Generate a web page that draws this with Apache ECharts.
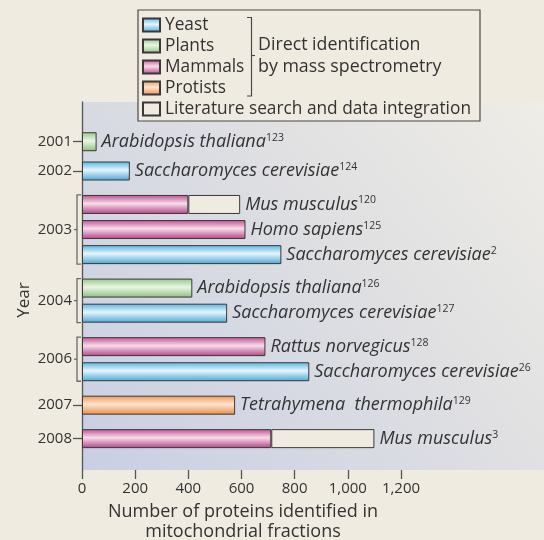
<!DOCTYPE html>
<html>
<head>
<meta charset="utf-8">
<script src="https://cdn.jsdelivr.net/npm/echarts@6/dist/echarts.min.js"></script>
<style>
  html, body { margin: 0; padding: 0; background: #efebe1; }
  #chart { width: 544px; height: 540px; }
</style>
</head>
<body>
<div id="chart"></div>
<script>
// rows, top to bottom
var rowSlot = [9, 16, 24, 30, 36, 44, 50, 58, 64, 72, 80];
var rowKind = ['Plants', 'Yeast', 'Mammals', 'Mammals', 'Yeast', 'Plants', 'Yeast', 'Mammals', 'Yeast', 'Protists', 'Mammals'];
var rowDirect = [55, 180, 400, 615, 750, 415, 546, 690, 855, 576, 712];
var rowLiterature = [0, 0, 195, 0, 0, 0, 0, 0, 0, 0, 388];
var rowOrganism = ['Arabidopsis thaliana', 'Saccharomyces cerevisiae', 'Mus musculus', 'Homo sapiens',
  'Saccharomyces cerevisiae', 'Arabidopsis thaliana', 'Saccharomyces cerevisiae', 'Rattus norvegicus',
  'Saccharomyces cerevisiae', 'Tetrahymena  thermophila', 'Mus musculus'];
var rowRef = ['123', '124', '120', '125', '2', '126', '127', '128', '26', '129', '3'];

// year labels
var years = ['2001', '2002', '2003', '2004', '2006', '2007', '2008'];
var yearSlot = [9, 16, 30, 47, 61, 72, 80];
var singleYearSlot = [9, 16, 72, 80];
var groups = [[24, 36, 30], [44, 50, 47], [58, 64, 61]];
var slotCount = 88;

var xTicks = [0, 200, 400, 600, 800, 1000, 1200];
var xTickLabels = ['0', '200', '400', '600', '800', '1,000', '1,200'];

var kinds = ['Yeast', 'Plants', 'Mammals', 'Protists'];
var kindColors = {
  Yeast: ['#55b4e0', '#e6f5fc', '#4aa6d4'],
  Plants: ['#96c688', '#eaf5e4', '#8cbf7e'],
  Mammals: ['#c04e92', '#f7dcea', '#b34386'],
  Protists: ['#ee9755', '#fde4cf', '#e88c48']
};

var FONT = 'Open Sans';
var categories = [];
for (var i = 0; i < slotCount; i++) categories.push('');
yearSlot.forEach(function (s, k) { categories[s] = years[k]; });

function grad(c) {
  return {
    type: 'linear', x: 0, y: 0, x2: 0, y2: 1,
    colorStops: [
      { offset: 0, color: c[0] },
      { offset: 0.45, color: c[1] },
      { offset: 1, color: c[2] }
    ]
  };
}

function rowLabel(r) {
  return {
    show: true,
    position: 'right',
    distance: 5,
    formatter: '{n|' + rowOrganism[r] + '}{s|' + rowRef[r] + '}',
    rich: {
      n: { fontFamily: FONT, fontStyle: 'italic', fontSize: 18, color: '#333', lineHeight: 19 },
      s: { fontFamily: FONT, fontSize: 10.5, color: '#333', lineHeight: 12, verticalAlign: 'top' }
    }
  };
}

var series = kinds.map(function (kind) {
  var data = categories.map(function () { return '-'; });
  rowSlot.forEach(function (s, r) {
    if (rowKind[r] !== kind) return;
    var item = { value: rowDirect[r] };
    if (!rowLiterature[r]) item.label = rowLabel(r);
    data[s] = item;
  });
  return {
    name: kind,
    type: 'bar',
    stack: 'total',
    barWidth: 19,
    data: data,
    itemStyle: { color: grad(kindColors[kind]), borderColor: '#3b3838', borderWidth: 1 }
  };
});

var litData = categories.map(function () { return '-'; });
rowSlot.forEach(function (s, r) {
  if (rowLiterature[r]) litData[s] = { value: rowLiterature[r], label: rowLabel(r) };
});
series.push({
  name: 'Literature search and data integration',
  type: 'bar',
  stack: 'total',
  barWidth: 19,
  data: litData,
  itemStyle: { color: '#efebe1', borderColor: '#3b3838', borderWidth: 1 }
});

// year brackets
series.push({
  type: 'custom',
  clip: false,
  silent: true,
  encode: { x: 0, y: [1, 2, 3] },
  data: groups.map(function (g) { return [0, g[0], g[1], g[2]]; }),
  renderItem: function (params, api) {
    var top = api.coord([0, api.value(1)]);
    var bot = api.coord([0, api.value(2)]);
    var mid = api.coord([0, api.value(3)]);
    var h = 9.5, x = top[0] - 5;
    var st = { stroke: '#6b6b6b', lineWidth: 1.3, fill: null };
    return {
      type: 'group',
      children: [
        { type: 'polyline', shape: { points: [[x + 4, top[1] - h], [x, top[1] - h], [x, bot[1] + h], [x + 4, bot[1] + h]] }, style: st },
        { type: 'line', shape: { x1: x - 3, y1: mid[1], x2: x, y2: mid[1] }, style: st }
      ]
    };
  }
});

var chart = echarts.init(document.getElementById('chart'));
chart.setOption({
  backgroundColor: '#efebe1',
  animation: false,
  textStyle: { fontFamily: FONT },
  grid: {
    left: 82, right: 0, top: 102, bottom: 70,
    outerBoundsMode: 'none',
    show: true,
    borderWidth: 0,
    backgroundColor: {
      type: 'linear', x: 0, y: 1, x2: 1, y2: 0,
      colorStops: [{ offset: 0, color: '#c8cfe4' }, { offset: 0.6, color: '#e0e0e2' }, { offset: 1, color: '#eeede7' }]
    }
  },
  legend: {
    orient: 'vertical',
    left: 142, top: 16,
    padding: 0,
    icon: 'rect',
    itemWidth: 17, itemHeight: 13,
    itemGap: 3,
    selectedMode: false,
    z: 5,
    textStyle: { fontFamily: FONT, fontSize: 17.3, color: '#333', lineHeight: 18 },
    data: ['Yeast', 'Plants', 'Mammals', 'Protists', 'Literature search and data integration']
  },
  graphic: [
    { type: 'rect', z: 3, shape: { x: 138, y: 10, width: 342, height: 111 }, style: { fill: '#efebe1', stroke: '#4a4848', lineWidth: 1.2 } },
    { type: 'polyline', z: 4, shape: { points: [[247, 17.5], [251.5, 17.5], [251.5, 96], [247, 96]] }, style: { stroke: '#4a4848', lineWidth: 1.2, fill: null } },
    { type: 'line', z: 4, shape: { x1: 251.5, y1: 55.5, x2: 255, y2: 55.5 }, style: { stroke: '#4a4848', lineWidth: 1.2 } },
    { type: 'text', z: 4, left: 258, top: 34, style: { text: 'Direct identification\nby mass spectrometry', fontFamily: FONT, fontSize: 17.8, lineHeight: 22, fill: '#333' } }
  ],
  xAxis: {
    type: 'value',
    min: 0, max: 1738,
    splitLine: { show: false },
    axisLine: { show: false },
    axisTick: { show: true, length: 9, customValues: xTicks, lineStyle: { color: '#555', width: 1.3 } },
    axisLabel: {
      customValues: xTicks,
      margin: 11,
      fontFamily: FONT, fontSize: 15, color: '#333',
      formatter: function (v) { return xTickLabels[xTicks.indexOf(v)]; }
    },
    name: 'Number of proteins identified in\nmitochondrial fractions',
    nameLocation: 'middle',
    nameGap: 32,
    nameMoveOverlap: false,
    nameTextStyle: { fontFamily: FONT, fontSize: 18, color: '#333', lineHeight: 20, padding: [0, 140, 0, 0] }
  },
  yAxis: {
    type: 'category',
    inverse: true,
    data: categories,
    axisLine: { show: true, lineStyle: { color: '#555', width: 1.3 } },
    axisTick: {
      show: true, length: 9, alignWithLabel: true,
      interval: function (idx) { return singleYearSlot.indexOf(idx) >= 0; },
      lineStyle: { color: '#555', width: 1.3 }
    },
    axisLabel: { interval: 0, margin: 10, fontFamily: FONT, fontSize: 15, color: '#333' },
    name: 'Year',
    nameLocation: 'middle',
    nameGap: 49,
    nameMoveOverlap: false,
    nameTextStyle: { fontFamily: FONT, fontSize: 17, color: '#333', padding: [0, 28, 0, 0] }
  },
  series: series
});
</script>
</body>
</html>
